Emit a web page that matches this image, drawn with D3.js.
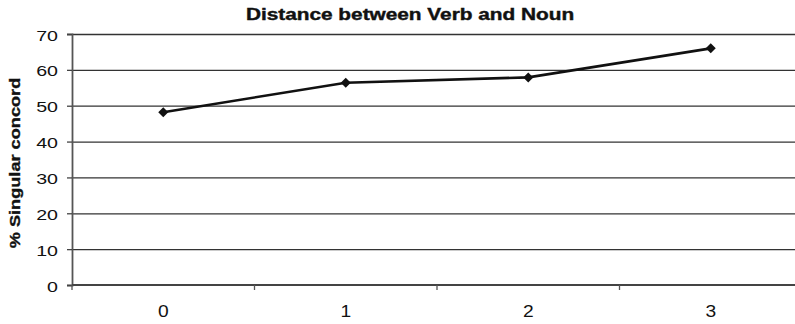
<!DOCTYPE html>
<html>
<head>
<meta charset="utf-8">
<script src="https://cdn.jsdelivr.net/npm/d3@7"></script>
<style>
  body { margin: 0; background: #fff; }
  svg { display: block; font-family: "Liberation Sans", Arial, sans-serif; }
</style>
</head>
<body>
<svg id="chart"></svg>
<script>
const width = 795, height = 324;

// data
const distances = ["0", "1", "2", "3"];
const singularPct = [48.2, 56.4, 57.9, 66.0];
const yTicks = [0, 10, 20, 30, 40, 50, 60, 70];

const plotLeft = 72, plotRight = 802, plotTop = 34, plotBottom = 285;
const fontFam = "Liberation Sans, Arial, sans-serif";

// the original font is a wide Helvetica, so stretch text horizontally
function widen(sel, k) {
  sel.each(function() {
    const w = this.getComputedTextLength();
    d3.select(this).attr("textLength", w * k).attr("lengthAdjust", "spacingAndGlyphs");
  });
}

const svg = d3.select("#chart")
  .attr("width", width)
  .attr("height", height);

const x = d3.scaleBand()
  .domain(distances)
  .range([plotLeft, plotRight])
  .padding(0);

const y = d3.scaleLinear()
  .domain([0, 70])
  .range([plotBottom, plotTop]);

// gridlines
svg.append("g")
  .attr("transform", `translate(${plotLeft},0)`)
  .call(d3.axisLeft(y).tickValues(yTicks.slice(1)).tickSize(-(plotRight - plotLeft)).tickFormat(""))
  .call(g => g.select(".domain").remove())
  .call(g => g.selectAll("line").attr("stroke", "#333").attr("stroke-width", 1.3));

// y axis
svg.append("g")
  .attr("transform", `translate(${plotLeft},0)`)
  .call(d3.axisLeft(y).tickValues(yTicks).tickSize(5).tickPadding(9))
  .call(g => g.select(".domain").attr("stroke", "#555").attr("stroke-width", 1.8))
  .call(g => g.selectAll("line").attr("stroke", "#444").attr("stroke-width", 1.3))
  .call(g => g.selectAll("text").attr("font-size", 14).attr("fill", "#111").attr("dy", "0.43em")
    .style("font-family", fontFam)
    .call(widen, 1.4));

// x axis: labels centred on bands, ticks on band boundaries
const xAxis = svg.append("g")
  .attr("transform", `translate(0,${plotBottom})`)
  .call(d3.axisBottom(x).tickSize(0).tickPadding(21))
  .call(g => g.select(".domain").remove())
  .call(g => g.selectAll("text").attr("font-size", 16).attr("fill", "#111")
    .style("font-family", fontFam)
    .call(widen, 1.2));

xAxis.append("line")
  .attr("x1", plotLeft).attr("x2", plotRight)
  .attr("stroke", "#444").attr("stroke-width", 2);

xAxis.selectAll("line.bound")
  .data(distances.map(d => x(d)).concat([x.range()[1]]))
  .enter().append("line")
  .attr("class", "bound")
  .attr("x1", d => d).attr("x2", d => d)
  .attr("y1", 0).attr("y2", 5)
  .attr("stroke", "#555").attr("stroke-width", 1.3);

// series
const pts = distances.map((d, i) => ({ cat: d, value: singularPct[i] }));

svg.append("path")
  .datum(pts)
  .attr("fill", "none")
  .attr("stroke", "#111")
  .attr("stroke-width", 2.6)
  .attr("d", d3.line()
    .x(d => x(d.cat) + x.bandwidth() / 2)
    .y(d => y(d.value)));

svg.selectAll("path.marker")
  .data(pts)
  .enter().append("path")
  .attr("class", "marker")
  .attr("d", d3.symbol(d3.symbolDiamond2, 64))
  .attr("transform", d => `translate(${x(d.cat) + x.bandwidth() / 2},${y(d.value)})`)
  .attr("fill", "#111");

// title
svg.append("text")
  .attr("x", 410)
  .attr("y", 20)
  .attr("text-anchor", "middle")
  .attr("font-size", 16)
  .attr("font-weight", "bold")
  .attr("fill", "#111")
  .attr("stroke", "#111")
  .attr("stroke-width", 0.4)
  .text("Distance between Verb and Noun")
  .call(widen, 1.3);

// y axis title
svg.append("text")
  .attr("transform", "translate(20,163) rotate(-90)")
  .attr("text-anchor", "middle")
  .attr("font-size", 15)
  .attr("font-weight", "bold")
  .attr("fill", "#111")
  .attr("stroke", "#111")
  .attr("stroke-width", 0.35)
  .text("% Singular concord")
  .call(widen, 1.21);
</script>
</body>
</html>
